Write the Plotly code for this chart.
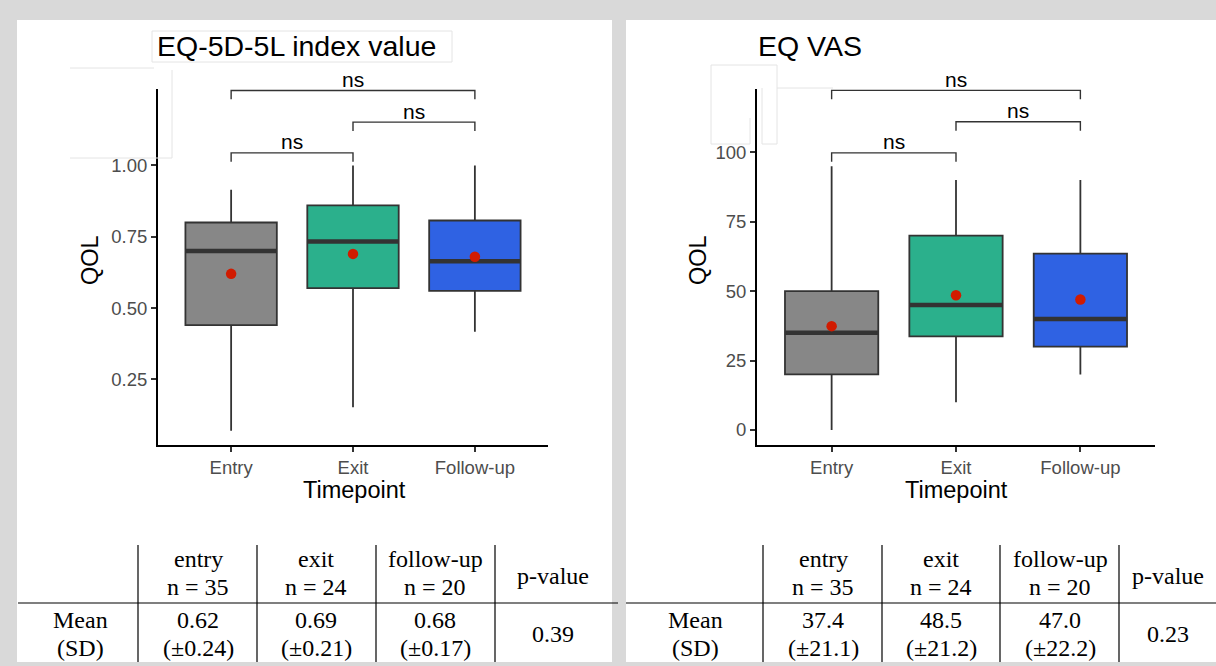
import plotly.graph_objects as go

W, H = 1216, 666

# ---------------- data ----------------
categories = ["Entry", "Exit", "Follow-up"]
positions = [1, 2, 3]

eq5d_q1 = [0.44, 0.57, 0.56]
eq5d_median = [0.70, 0.733, 0.664]
eq5d_q3 = [0.80, 0.86, 0.807]
eq5d_low = [0.07, 0.152, 0.417]
eq5d_high = [0.915, 1.0, 1.0]
eq5d_mean = [0.62, 0.69, 0.68]

vas_q1 = [20, 33.75, 30]
vas_median = [35, 45, 40]
vas_q3 = [50, 70, 63.5]
vas_low = [0, 10, 20]
vas_high = [95, 90, 90]
vas_mean = [37.4, 48.5, 47.0]

box_colors = ["#878787", "#2bb08c", "#2f62e3"]

pairs = [(1, 2), (2, 3), (1, 3)]
pair_labels = ["ns", "ns", "ns"]
eq5d_bracket_y = [1.044, 1.152, 1.263]
vas_bracket_y = [99.8, 111.0, 122.3]

table_groups = ["entry", "exit", "follow-up"]
table_n = [35, 24, 20]
eq5d_sd = [0.24, 0.21, 0.17]
eq5d_p = "0.39"
vas_sd = [21.1, 21.2, 22.2]
vas_p = "0.23"

# ---------------- helpers ----------------
def px(x):
    return x / W


def py(y):
    return 1 - y / H


SANS = "Liberation Sans"
SERIF = "Liberation Serif"

fig = go.Figure()

panels = [
    dict(xa="x", ya="y", q1=eq5d_q1, med=eq5d_median, q3=eq5d_q3, lo=eq5d_low,
         hi=eq5d_high, mean=eq5d_mean, by=eq5d_bracket_y, tick=0.031),
    dict(xa="x2", ya="y2", q1=vas_q1, med=vas_median, q3=vas_q3, lo=vas_low,
         hi=vas_high, mean=vas_mean, by=vas_bracket_y, tick=3.2),
]

half = 0.375
for p in panels:
    for i, pos in enumerate(positions):
        fig.add_trace(go.Box(
            x=[pos], q1=[p["q1"][i]], median=[p["med"][i]], q3=[p["q3"][i]],
            lowerfence=[p["lo"][i]], upperfence=[p["hi"][i]],
            width=0.75, whiskerwidth=0, boxpoints=False,
            fillcolor=box_colors[i], line=dict(color="#333333", width=1.8),
            xaxis=p["xa"], yaxis=p["ya"], showlegend=False, hoverinfo="skip"))
        fig.add_trace(go.Scatter(
            x=[pos - half, pos + half], y=[p["med"][i], p["med"][i]], mode="lines",
            line=dict(color="#333333", width=4.5), xaxis=p["xa"], yaxis=p["ya"],
            showlegend=False, hoverinfo="skip"))
    fig.add_trace(go.Scatter(
        x=positions, y=p["mean"], mode="markers",
        marker=dict(color="#d11b00", size=10.5), xaxis=p["xa"], yaxis=p["ya"],
        showlegend=False, hoverinfo="skip"))
    for (a, b), yb, lab in zip(pairs, p["by"], pair_labels):
        fig.add_trace(go.Scatter(
            x=[a, a, b, b], y=[yb - p["tick"], yb, yb, yb - p["tick"]], mode="lines",
            line=dict(color="#333333", width=1.4), xaxis=p["xa"], yaxis=p["ya"],
            showlegend=False, hoverinfo="skip"))
        fig.add_annotation(x=(a + b) / 2, y=yb, xref=p["xa"], yref=p["ya"], text=lab,
                           showarrow=False, yanchor="middle", yshift=11,
                           font=dict(family=SANS, size=21, color="black"))

axis_common = dict(showline=True, linecolor="black", linewidth=2, ticks="outside",
                   ticklen=5, tickwidth=1.5, tickcolor="#333333", showgrid=False,
                   zeroline=False, tickfont=dict(family=SANS, size=18.5, color="#4d4d4d"))

fig.update_layout(
    width=W, height=H, margin=dict(l=0, r=0, t=0, b=0),
    paper_bgcolor="#d9d9d9", plot_bgcolor="white", showlegend=False,
    xaxis=dict(domain=[px(158), px(548)], range=[0.4, 3.6], tickvals=positions,
               ticktext=categories, anchor="y", **axis_common),
    yaxis=dict(domain=[py(445), py(89)], range=[0.02, 1.268],
               tickvals=[0.25, 0.5, 0.75, 1.0], ticktext=["0.25", "0.50", "0.75", "1.00"],
               anchor="x", **axis_common),
    xaxis2=dict(domain=[px(757), px(1155)], range=[0.4, 3.6], tickvals=positions,
                ticktext=categories, anchor="y2", **axis_common),
    yaxis2=dict(domain=[py(445), py(89)], range=[-5.4, 122.8],
                tickvals=[0, 25, 50, 75, 100], anchor="x2", **axis_common),
)

shapes = []
# white panels
shapes.append(dict(type="rect", xref="paper", yref="paper", x0=px(17), x1=px(612),
                   y0=py(662), y1=py(20), fillcolor="white", line=dict(width=0), layer="below"))
shapes.append(dict(type="rect", xref="paper", yref="paper", x0=px(626), x1=px(1216),
                   y0=py(662), y1=py(20), fillcolor="white", line=dict(width=0), layer="below"))


def seg(x0, y0, x1, y1, color="black", width=1.2):
    shapes.append(dict(type="line", xref="paper", yref="paper", x0=px(x0), x1=px(x1),
                       y0=py(y0), y1=py(y1), line=dict(color=color, width=width)))


# faint frame artifacts
faint = "#e4e4e4"
seg(152, 31, 452, 31, faint, 1)
seg(152, 62, 452, 62, faint, 1)
seg(152, 31, 152, 62, faint, 1)
seg(452, 31, 452, 62, faint, 1)
seg(70, 68, 154, 68, faint, 1)
seg(172, 70, 172, 158, faint, 1)
seg(70, 158, 172, 158, faint, 1)
seg(711, 65, 777, 65, faint, 1)
seg(711, 65, 711, 144, faint, 1)
seg(777, 65, 777, 144, faint, 1)
seg(711, 144, 750, 144, faint, 1)
seg(762, 144, 777, 144, faint, 1)
seg(777, 88, 833, 88, faint, 1)
seg(750, 118, 750, 144, faint, 1)
seg(762, 88, 762, 144, faint, 1)

# tables
seg(18, 603, 618, 603)
for x in [138, 257, 376, 495]:
    seg(x, 545, x, 662)
seg(626, 603, 1216, 603)
for x in [763, 882, 1000, 1119]:
    seg(x, 545, x, 662)

fig.update_layout(shapes=shapes)


def txt(x, y, s, size=24, family=SERIF, color="black", angle=0):
    fig.add_annotation(x=px(x), y=py(y), xref="paper", yref="paper", text=s,
                       showarrow=False, xanchor="center", yanchor="middle", textangle=angle,
                       borderpad=0, font=dict(family=family, size=size, color=color))


# titles
fig.add_annotation(x=px(155), y=py(46), xref="paper", yref="paper", text="EQ-5D-5L index value",
                   showarrow=False, xanchor="left", yanchor="middle",
                   font=dict(family=SANS, size=28.5, color="black"))
fig.add_annotation(x=px(756), y=py(46), xref="paper", yref="paper", text="EQ VAS",
                   showarrow=False, xanchor="left", yanchor="middle",
                   font=dict(family=SANS, size=28.5, color="black"))

# axis titles
for cx, ycx in [(354, 90), (956, 698)]:
    txt(cx, 490, "Timepoint", size=23.5, family=SANS)
    txt(ycx, 260, "QOL", size=23.5, family=SANS, angle=-90)

# table text
tables = [
    dict(cols=[80, 198, 316, 435, 553], sd=eq5d_sd, mean=eq5d_mean, fmt="{:.2f}", p=eq5d_p),
    dict(cols=[695, 823, 941, 1060, 1168], sd=vas_sd, mean=vas_mean, fmt="{:.1f}", p=vas_p),
]
for t in tables:
    c = t["cols"]
    for i in range(3):
        txt(c[i + 1], 559, table_groups[i])
        txt(c[i + 1], 587, "n = {}".format(table_n[i]))
        txt(c[i + 1], 620, t["fmt"].format(t["mean"][i]))
        txt(c[i + 1], 648, "(±" + t["fmt"].format(t["sd"][i]) + ")")
    txt(c[4], 576, "p-value")
    txt(c[0], 620, "Mean")
    txt(c[0], 648, "(SD)")
    txt(c[4], 634, t["p"])

fig.write_html("out.html")
